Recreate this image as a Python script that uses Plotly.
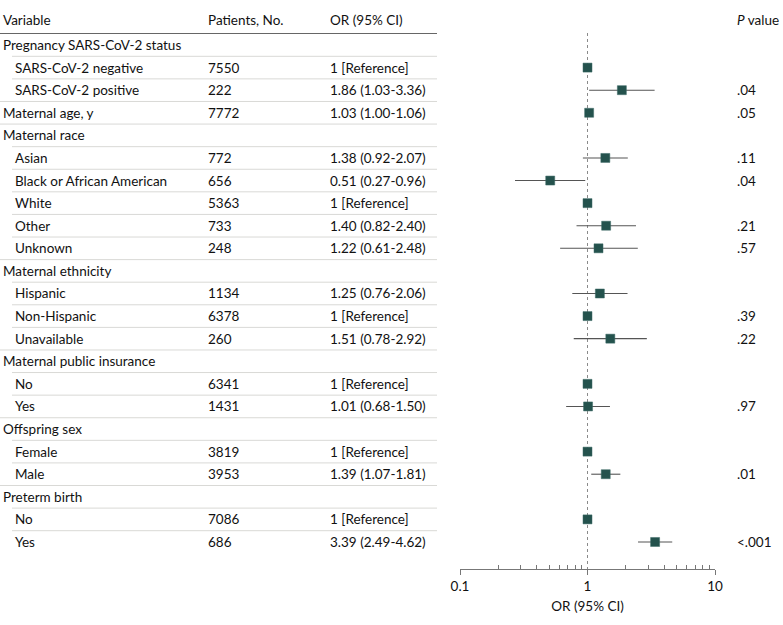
import plotly.graph_objects as go

labels = ["Pregnancy SARS-CoV-2 status", "SARS-CoV-2 negative", "SARS-CoV-2 positive",
          "Maternal age, y", "Maternal race", "Asian", "Black or African American", "White",
          "Other", "Unknown", "Maternal ethnicity", "Hispanic", "Non-Hispanic", "Unavailable",
          "Maternal public insurance", "No", "Yes", "Offspring sex", "Female", "Male",
          "Preterm birth", "No", "Yes"]
indent = [0, 1, 1, 0, 0, 1, 1, 1, 1, 1, 0, 1, 1, 1, 0, 1, 1, 0, 1, 1, 0, 1, 1]
patients = ["", "7550", "222", "7772", "", "772", "656", "5363", "733", "248", "", "1134",
            "6378", "260", "", "6341", "1431", "", "3819", "3953", "", "7086", "686"]
or_text = ["", "1 [Reference]", "1.86 (1.03-3.36)", "1.03 (1.00-1.06)", "",
           "1.38 (0.92-2.07)", "0.51 (0.27-0.96)", "1 [Reference]", "1.40 (0.82-2.40)",
           "1.22 (0.61-2.48)", "", "1.25 (0.76-2.06)", "1 [Reference]", "1.51 (0.78-2.92)", "",
           "1 [Reference]", "1.01 (0.68-1.50)", "", "1 [Reference]", "1.39 (1.07-1.81)", "",
           "1 [Reference]", "3.39 (2.49-4.62)"]
or_val = [None, 1, 1.86, 1.03, None, 1.38, 0.51, 1, 1.40, 1.22, None, 1.25, 1, 1.51, None,
          1, 1.01, None, 1, 1.39, None, 1, 3.39]
ci_lo = [None, 1, 1.03, 1.00, None, 0.92, 0.27, 1, 0.82, 0.61, None, 0.76, 1, 0.78, None,
         1, 0.68, None, 1, 1.07, None, 1, 2.49]
ci_hi = [None, 1, 3.36, 1.06, None, 2.07, 0.96, 1, 2.40, 2.48, None, 2.06, 1, 2.92, None,
         1, 1.50, None, 1, 1.81, None, 1, 4.62]
p_vals = ["", "", ".04", ".05", "", ".11", ".04", "", ".21", ".57", "", "", ".39", ".22", "",
          "", ".97", "", "", ".01", "", "", "<.001"]
x_ticks = [0.1, 1, 10]
x_tick_text = ["0.1", "1", "10"]
minor_ticks = [0.2, 0.3, 0.4, 0.5, 0.6, 0.7, 0.8, 0.9, 2, 3, 4, 5, 6, 7, 8, 9]

W, H = 783, 625
FONT = "Lato"
FS = 13.5
TXT = "#111111"
rows = list(range(1, len(labels) + 1))

# pixel layout helpers
row0_px, row_step = 45, 22.59
top_px, bot_px = 33, 569
r_top = 1 + (top_px - row0_px) / row_step
r_bot = 1 + (bot_px - row0_px) / row_step

def px_x(p):
    return p / W

def px_y(p):
    return 1 - p / H

pts_y = [r for r, v in zip(rows, or_val) if v is not None]
pts_x = [v for v in or_val if v is not None]
err_plus = [h - v for v, h in zip(or_val, ci_hi) if v is not None]
err_minus = [v - l for v, l in zip(or_val, ci_lo) if v is not None]

fig = go.Figure()
fig.add_trace(go.Scatter(
    x=pts_x, y=pts_y, mode="markers",
    marker=dict(symbol="square", size=9, color="#24524d", line=dict(width=0.5, color="#3d6b66")),
    error_x=dict(type="data", symmetric=False, array=err_plus, arrayminus=err_minus,
                 width=0, thickness=1.1, color="#555555"),
    showlegend=False, hoverinfo="skip", cliponaxis=False,
))

shapes = []
# header underline
shapes.append(dict(type="line", xref="paper", yref="y", x0=0, x1=px_x(437), y0=r_top, y1=r_top,
                   line=dict(color="#333333", width=1.5)))
# row separators
for i in range(len(labels) - 1):
    x0 = px_x(12) if indent[i + 1] else 0
    shapes.append(dict(type="line", xref="paper", yref="y", x0=x0, x1=px_x(437),
                       y0=rows[i] + 0.5, y1=rows[i] + 0.5,
                       line=dict(color="#d9d9d6", width=1)))
# reference line at OR = 1
shapes.append(dict(type="line", xref="x", yref="y", x0=1, x1=1, y0=r_top, y1=r_bot,
                   line=dict(color="#8a8a8a", width=1, dash="dot"), layer="below"))

ann = []
def text(x, y, s, yref="y", **kw):
    d = dict(xref="paper", yref=yref, x=x, y=y, text=s, showarrow=False, xanchor="left",
             yanchor="middle", font=dict(family=FONT, size=FS, color=TXT))
    d.update(kw)
    ann.append(d)

hdr_y = px_y(20)
text(px_x(1), hdr_y, "Variable", yref="paper")
text(px_x(206), hdr_y, "Patients, No.", yref="paper")
text(px_x(328), hdr_y, "OR (95% CI)", yref="paper")
text(px_x(735), hdr_y, "<i>P</i> value", yref="paper")

for r, lab, ind, pt, ot, pv in zip(rows, labels, indent, patients, or_text, p_vals):
    text(px_x(13 if ind else 1), r, lab)
    if pt:
        text(px_x(206), r, pt)
    if ot:
        text(px_x(328), r, ot)
    if pv:
        text(px_x(735), r, pv)

fig.update_layout(
    width=W, height=H, margin=dict(l=0, r=0, t=0, b=0, autoexpand=False),
    paper_bgcolor="white", plot_bgcolor="white",
    font=dict(family=FONT, size=FS, color=TXT),
    shapes=shapes, annotations=ann, showlegend=False,
    xaxis=dict(type="log", domain=[px_x(460), px_x(715)], range=[-1, 1], automargin=False,
               tickvals=x_ticks, ticktext=x_tick_text, ticks="outside", ticklen=5,
               tickcolor="#777777", showline=True, linecolor="#777777", linewidth=1,
               showgrid=False, zeroline=False, tickfont=dict(family=FONT, size=FS, color=TXT),
               minor=dict(tickvals=minor_ticks, ticks="inside", ticklen=4, tickcolor="#777777",
                          showgrid=False),
               title=dict(text="OR (95% CI)", font=dict(family=FONT, size=FS, color=TXT),
                          standoff=8),
               fixedrange=True),
    yaxis=dict(domain=[px_y(bot_px), px_y(top_px)], range=[r_bot, r_top], visible=False,
               automargin=False, fixedrange=True),
)

fig.write_html("out.html", config={"displayModeBar": False},
               post_script="document.body.style.margin='0';document.body.style.overflow='hidden';")
